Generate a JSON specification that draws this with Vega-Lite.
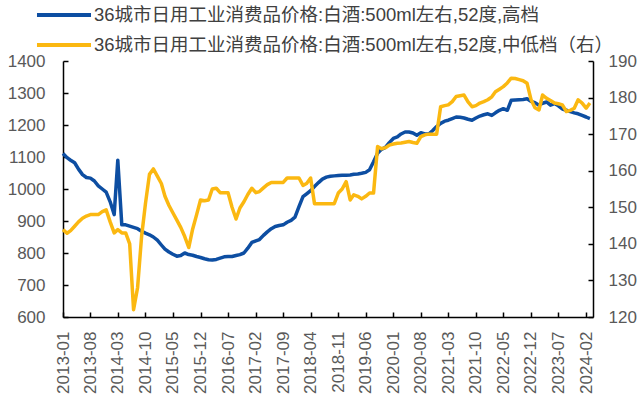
{
  "$schema": "https://vega.github.io/schema/vega-lite/v6.json",
  "width": 530,
  "height": 256,
  "autosize": {"type": "none"},
  "padding": {"left": 63, "top": 61, "right": 47, "bottom": 86},
  "background": "white",
  "config": {"view": {"stroke": null}, "font": "Liberation Sans"},
  "data": {"values": [
    {"d":"2013-01-01","a":1111,"b":143.9},{"d":"2013-02-01","a":1098,"b":142.9},{"d":"2013-03-01","a":1090,"b":143.6},{"d":"2013-04-01","a":1082,"b":144.8},{"d":"2013-05-01","a":1062,"b":146},{"d":"2013-06-01","a":1045,"b":147},{"d":"2013-07-01","a":1036,"b":147.6},{"d":"2013-08-01","a":1034,"b":148},{"d":"2013-09-01","a":1025,"b":148},{"d":"2013-10-01","a":1010,"b":148},{"d":"2013-11-01","a":1000,"b":148.8},{"d":"2013-12-01","a":990,"b":149.3},
    {"d":"2014-01-01","a":960,"b":146},{"d":"2014-02-01","a":920,"b":143},{"d":"2014-03-01","a":1090,"b":143.9},{"d":"2014-04-01","a":888,"b":143},{"d":"2014-05-01","a":888,"b":143},{"d":"2014-06-01","a":884,"b":140},{"d":"2014-07-01","a":880,"b":122},{"d":"2014-08-01","a":876,"b":128},{"d":"2014-09-01","a":868,"b":142},{"d":"2014-10-01","a":862,"b":151},{"d":"2014-11-01","a":857,"b":159},{"d":"2014-12-01","a":850,"b":160.5},
    {"d":"2015-01-01","a":840,"b":158.5},{"d":"2015-02-01","a":825,"b":156.5},{"d":"2015-03-01","a":812,"b":153},{"d":"2015-04-01","a":803,"b":150.5},{"d":"2015-05-01","a":796,"b":148.5},{"d":"2015-06-01","a":790,"b":146.5},{"d":"2015-07-01","a":792,"b":144.5},{"d":"2015-08-01","a":800,"b":142},{"d":"2015-09-01","a":795,"b":139},{"d":"2015-10-01","a":793,"b":144},{"d":"2015-11-01","a":789,"b":148},{"d":"2015-12-01","a":786,"b":152},
    {"d":"2016-01-01","a":782,"b":151.8},{"d":"2016-02-01","a":779,"b":152},{"d":"2016-03-01","a":778,"b":155},{"d":"2016-04-01","a":780,"b":155.2},{"d":"2016-05-01","a":784,"b":154},{"d":"2016-06-01","a":788,"b":154},{"d":"2016-07-01","a":789,"b":154},{"d":"2016-08-01","a":789,"b":150},{"d":"2016-09-01","a":792,"b":146.8},{"d":"2016-10-01","a":795,"b":149.8},{"d":"2016-11-01","a":800,"b":151.5},{"d":"2016-12-01","a":815,"b":153.5},
    {"d":"2017-01-01","a":833,"b":155.2},{"d":"2017-02-01","a":838,"b":154},{"d":"2017-03-01","a":842,"b":154.3},{"d":"2017-04-01","a":855,"b":155.3},{"d":"2017-05-01","a":866,"b":156.2},{"d":"2017-06-01","a":876,"b":156.8},{"d":"2017-07-01","a":883,"b":156.8},{"d":"2017-08-01","a":886,"b":156.8},{"d":"2017-09-01","a":888,"b":156.8},{"d":"2017-10-01","a":896,"b":158},{"d":"2017-11-01","a":902,"b":158},{"d":"2017-12-01","a":912,"b":158},
    {"d":"2018-01-01","a":945,"b":158},{"d":"2018-02-01","a":976,"b":156},{"d":"2018-03-01","a":985,"b":156.5},{"d":"2018-04-01","a":995,"b":158},{"d":"2018-05-01","a":1008,"b":151},{"d":"2018-06-01","a":1020,"b":151},{"d":"2018-07-01","a":1031,"b":151},{"d":"2018-08-01","a":1037,"b":151},{"d":"2018-09-01","a":1040,"b":151},{"d":"2018-10-01","a":1041,"b":151},{"d":"2018-11-01","a":1042,"b":153.9},{"d":"2018-12-01","a":1043,"b":155},
    {"d":"2019-01-01","a":1043,"b":157},{"d":"2019-02-01","a":1044,"b":152},{"d":"2019-03-01","a":1046,"b":153.4},{"d":"2019-04-01","a":1047,"b":153},{"d":"2019-05-01","a":1049,"b":152.3},{"d":"2019-06-01","a":1052,"b":153},{"d":"2019-07-01","a":1060,"b":153.9},{"d":"2019-08-01","a":1085,"b":153.9},{"d":"2019-09-01","a":1112,"b":166.6},{"d":"2019-10-01","a":1124,"b":166},{"d":"2019-11-01","a":1130,"b":166.3},{"d":"2019-12-01","a":1145,"b":167},
    {"d":"2020-01-01","a":1158,"b":167.3},{"d":"2020-02-01","a":1163,"b":167.5},{"d":"2020-03-01","a":1172,"b":167.6},{"d":"2020-04-01","a":1178,"b":167.8},{"d":"2020-05-01","a":1178,"b":168},{"d":"2020-06-01","a":1175,"b":167.7},{"d":"2020-07-01","a":1168,"b":167.5},{"d":"2020-08-01","a":1176,"b":169.3},{"d":"2020-09-01","a":1172,"b":169.8},{"d":"2020-10-01","a":1172,"b":170},{"d":"2020-11-01","a":1183,"b":170},{"d":"2020-12-01","a":1195,"b":170},
    {"d":"2021-01-01","a":1205,"b":177.5},{"d":"2021-02-01","a":1212,"b":177.8},{"d":"2021-03-01","a":1215,"b":178},{"d":"2021-04-01","a":1220,"b":178.9},{"d":"2021-05-01","a":1225,"b":180.3},{"d":"2021-06-01","a":1224,"b":180.5},{"d":"2021-07-01","a":1222,"b":180.7},{"d":"2021-08-01","a":1218,"b":178.8},{"d":"2021-09-01","a":1215,"b":177.5},{"d":"2021-10-01","a":1222,"b":177.8},{"d":"2021-11-01","a":1228,"b":178.5},{"d":"2021-12-01","a":1232,"b":178.9},
    {"d":"2022-01-01","a":1235,"b":179.4},{"d":"2022-02-01","a":1230,"b":180.2},{"d":"2022-03-01","a":1238,"b":181.6},{"d":"2022-04-01","a":1246,"b":182.3},{"d":"2022-05-01","a":1251,"b":183},{"d":"2022-06-01","a":1246,"b":184},{"d":"2022-07-01","a":1277,"b":185.3},{"d":"2022-08-01","a":1278,"b":185.2},{"d":"2022-09-01","a":1279,"b":184.9},{"d":"2022-10-01","a":1280,"b":184.6},{"d":"2022-11-01","a":1282,"b":183.9},{"d":"2022-12-01","a":1274,"b":179.5},
    {"d":"2023-01-01","a":1270,"b":177.2},{"d":"2023-02-01","a":1262,"b":176.6},{"d":"2023-03-01","a":1268,"b":180.7},{"d":"2023-04-01","a":1272,"b":179.8},{"d":"2023-05-01","a":1262,"b":179.2},{"d":"2023-06-01","a":1267,"b":178.5},{"d":"2023-07-01","a":1260,"b":178.3},{"d":"2023-08-01","a":1250,"b":178},{"d":"2023-09-01","a":1246,"b":176.2},{"d":"2023-10-01","a":1242,"b":176.5},{"d":"2023-11-01","a":1238,"b":177.1},{"d":"2023-12-01","a":1235,"b":179.4},
    {"d":"2024-01-01","a":1230,"b":178.5},{"d":"2024-02-01","a":1225,"b":177.1},{"d":"2024-03-01","a":1220,"b":178.5}
  ]},
  "encoding": {
    "x": {
      "field": "d", "type": "temporal",
      "scale": {"type": "utc", "domain": [{"year": 2013, "month": 1, "date": 1, "utc": true}, {"year": 2024, "month": 3, "date": 25, "utc": true}]},
      "axis": {
        "title": null, "grid": false, "format": "%Y-%m", "labelAngle": 270,
        "values": [
          {"year":2013,"month":1,"date":1,"utc":true},{"year":2013,"month":8,"date":1,"utc":true},{"year":2014,"month":3,"date":1,"utc":true},{"year":2014,"month":10,"date":1,"utc":true},{"year":2015,"month":5,"date":1,"utc":true},{"year":2015,"month":12,"date":1,"utc":true},{"year":2016,"month":7,"date":1,"utc":true},{"year":2017,"month":2,"date":1,"utc":true},{"year":2017,"month":9,"date":1,"utc":true},{"year":2018,"month":4,"date":1,"utc":true},{"year":2018,"month":11,"date":1,"utc":true},{"year":2019,"month":6,"date":1,"utc":true},{"year":2020,"month":1,"date":1,"utc":true},{"year":2020,"month":8,"date":1,"utc":true},{"year":2021,"month":3,"date":1,"utc":true},{"year":2021,"month":10,"date":1,"utc":true},{"year":2022,"month":5,"date":1,"utc":true},{"year":2022,"month":12,"date":1,"utc":true},{"year":2023,"month":7,"date":1,"utc":true},{"year":2024,"month":2,"date":1,"utc":true}
        ],
        "labelFont": "Liberation Sans", "labelFontSize": 17, "labelColor": "#595959",
        "labelOverlap": false, "labelFlush": false, "labelPadding": 19,
        "domainColor": "#000000", "domainWidth": 1.5,
        "tickColor": "#000000", "tickWidth": 1.5, "tickSize": -5
      }
    }
  },
  "layer": [
    {
      "mark": {"type": "line", "strokeWidth": 3.5, "strokeJoin": "round"},
      "encoding": {
        "y": {
          "field": "a", "type": "quantitative",
          "scale": {"domain": [600, 1400], "nice": false, "zero": false},
          "axis": {
            "orient": "left", "title": null, "grid": false, "format": "d",
            "values": [600, 700, 800, 900, 1000, 1100, 1200, 1300, 1400],
            "labelFont": "Liberation Sans", "labelFontSize": 17, "labelColor": "#595959", "labelPadding": 23,
            "domainColor": "#000000", "domainWidth": 1.5,
            "tickColor": "#000000", "tickWidth": 1.5, "tickSize": -5
          }
        },
        "color": {
          "datum": "A", "type": "nominal",
          "scale": {"domain": ["A", "B"], "range": ["#0D4EA2", "#FBB811"]},
          "legend": {
            "title": null, "orient": "none", "legendX": -12, "legendY": -59, "direction": "vertical",
            "padding": 0, "rowPadding": 7,
            "symbolType": "M-2.5,0H2.5", "symbolSize": 467, "symbolStrokeWidth": 4,
            "labelOffset": 17, "labelFont": "Liberation Sans, Noto Sans CJK SC", "labelFontSize": 18.5,
            "labelColor": "#404040", "labelLimit": 700,
            "labelExpr": "datum.label == 'A' ? '36城市日用工业消费品价格:白酒:500ml左右,52度,高档' : '36城市日用工业消费品价格:白酒:500ml左右,52度,中低档（右）'"
          }
        }
      }
    },
    {
      "mark": {"type": "line", "strokeWidth": 3.5, "strokeJoin": "round"},
      "encoding": {
        "y": {
          "field": "b", "type": "quantitative",
          "scale": {"domain": [120, 190], "nice": false, "zero": false},
          "axis": {
            "orient": "right", "title": null, "grid": false,
            "values": [120, 130, 140, 150, 160, 170, 180, 190],
            "labelFont": "Liberation Sans", "labelFontSize": 17, "labelColor": "#595959", "labelPadding": 20,
            "domainColor": "#000000", "domainWidth": 1.5,
            "tickColor": "#000000", "tickWidth": 1.5, "tickSize": -5
          }
        },
        "color": {"datum": "B", "type": "nominal"}
      }
    }
  ],
  "resolve": {"scale": {"y": "independent"}}
}
